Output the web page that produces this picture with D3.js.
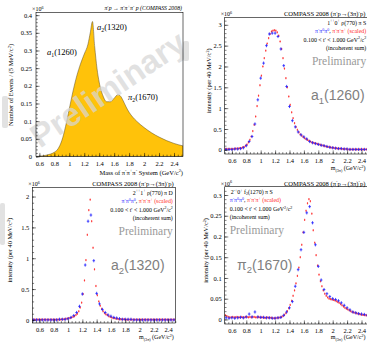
<!DOCTYPE html>
<html>
<head>
<meta charset="utf-8">
<script src="https://cdn.jsdelivr.net/npm/d3@7"></script>
<style>
  body { margin: 0; background: #fff; }
  svg { display: block; }
</style>
</head>
<body>
<div id="chart"></div>
<script>
// ---- total 3pi mass spectrum (x10^6 events / 5 MeV) ----
const totalMass   = [0.555, 0.6, 0.65, 0.7, 0.75, 0.8, 0.85, 0.9, 0.95, 1.0, 1.05, 1.1, 1.15, 1.2, 1.25, 1.28, 1.31, 1.34, 1.37, 1.4, 1.45, 1.5, 1.55, 1.6, 1.65, 1.68, 1.72, 1.76, 1.8, 1.85, 1.9, 2.0, 2.1, 2.2, 2.3, 2.4, 2.52];
const totalEvents = [0.0, 0.001, 0.002, 0.004, 0.007, 0.012, 0.022, 0.045, 0.085, 0.135, 0.185, 0.228, 0.262, 0.29, 0.318, 0.35, 0.382, 0.31, 0.25, 0.21, 0.172, 0.155, 0.155, 0.165, 0.175, 0.172, 0.158, 0.14, 0.125, 0.111, 0.1, 0.082, 0.067, 0.055, 0.045, 0.037, 0.03];

// ---- bin centres: pi- pi0 pi0 in 40 MeV bins, pi- pi- pi+ in 20 MeV bins ----
const bins40 = d3.range(50).map(i => 0.52 + 0.04 * i);
const bins20 = d3.range(100).map(i => 0.51 + 0.02 * i);

// a1(1260): 1++0+ rho(770) pi S  (x10^6)
const a1Neutral = [0.01,0.01,0.01,0.02,0.02,0.03,0.05,0.10,0.20,0.32,
                   0.62,1.20,1.72,2.08,2.50,2.78,2.80,2.80,2.72,2.42,
                   2.02,1.52,1.04,0.70,0.55,0.43,0.36,0.31,0.26,0.20,
                   0.17,0.15,0.13,0.11,0.10,0.08,0.06,0.05,0.04,0.03,
                   0.03,0.02,0.02,0.01,0.01,0.01,0.01,0.01,0.01,0.01];
const a1Charged = [0.02,0.02,0.02,0.02,0.02,0.02,0.02,0.03,0.03,0.03,
                   0.04,0.04,0.06,0.07,0.10,0.13,0.18,0.24,0.32,0.45,
                   0.60,0.80,1.05,1.30,1.55,1.78,2.00,2.20,2.38,2.55,
                   2.68,2.78,2.84,2.86,2.87,2.86,2.82,2.74,2.60,2.42,
                   2.20,1.95,1.72,1.50,1.28,1.08,0.90,0.76,0.64,0.55,
                   0.48,0.42,0.37,0.34,0.31,0.28,0.26,0.24,0.22,0.20,
                   0.18,0.17,0.16,0.15,0.14,0.13,0.12,0.11,0.10,0.09,
                   0.08,0.07,0.07,0.06,0.05,0.05,0.04,0.04,0.03,0.03,
                   0.03,0.02,0.02,0.02,0.02,0.01,0.01,0.01,0.01,0.01,
                   0.01,0.01,0.01,0.01,0.01,0.01,0.01,0.01,0.01,0.01];

// a2(1320): 2++1+ rho(770) pi D  (x10^6)
const a2Neutral = [0.00,0.00,0.00,0.00,0.00,0.00,0.00,0.00,0.00,0.01,
                   0.01,0.01,0.02,0.04,0.07,0.12,0.22,0.42,0.89,1.60,
                   1.70,0.96,0.43,0.26,0.17,0.12,0.08,0.06,0.04,0.03,
                   0.02,0.01,0.01,0.01,0.01,0.00,0.00,0.00,0.00,0.00,
                   0.00,0.00,0.00,0.00,0.00,0.00,0.00,0.00,0.00,0.00];
const a2Charged = [0.005,0.005,0.005,0.005,0.005,0.005,0.005,0.005,0.005,0.005,
                   0.005,0.005,0.005,0.005,0.005,0.005,0.005,0.005,0.005,0.005,
                   0.01,0.01,0.01,0.02,0.02,0.03,0.03,0.04,0.05,0.06,
                   0.08,0.10,0.14,0.20,0.28,0.42,0.64,0.97,1.38,1.78,
                   1.95,1.60,1.17,0.82,0.55,0.40,0.30,0.23,0.18,0.14,
                   0.11,0.09,0.08,0.06,0.05,0.04,0.03,0.03,0.02,0.02,
                   0.01,0.01,0.01,0.01,0.01,0.005,0.005,0.005,0.005,0.005,
                   0.005,0.005,0.005,0.005,0.005,0.005,0.005,0.005,0.005,0.005,
                   0.005,0.005,0.005,0.005,0.005,0.005,0.005,0.005,0.005,0.005,
                   0.005,0.005,0.005,0.005,0.005,0.005,0.005,0.005,0.005,0.005];

// pi2(1670): 2-+0+ f2(1270) pi S  (x10^6)
const pi2Neutral = [0.004,0.003,0.004,0.003,0.004,0.005,0.004,0.006,0.013,0.006,
                    0.018,0.006,0.005,0.005,0.004,0.004,0.003,0.003,0.004,0.005,
                    0.010,0.018,0.028,0.043,0.080,0.120,0.168,0.210,0.257,0.272,
                    0.233,0.180,0.128,0.095,0.072,0.062,0.055,0.050,0.048,0.045,
                    0.040,0.034,0.028,0.023,0.018,0.016,0.014,0.013,0.012,0.010];
const pi2Charged = [0.010,0.008,0.006,0.005,0.005,0.006,0.005,0.005,0.006,0.005,
                    0.005,0.006,0.005,0.005,0.006,0.006,0.005,0.006,0.005,0.006,
                    0.006,0.005,0.005,0.006,0.005,0.005,0.005,0.004,0.004,0.005,
                    0.004,0.004,0.004,0.003,0.003,0.003,0.004,0.004,0.005,0.006,
                    0.008,0.011,0.015,0.020,0.027,0.035,0.045,0.057,0.070,0.087,
                    0.105,0.125,0.150,0.180,0.210,0.240,0.262,0.280,0.290,0.285,
                    0.255,0.215,0.185,0.155,0.130,0.108,0.092,0.080,0.070,0.062,
                    0.057,0.053,0.050,0.049,0.048,0.047,0.046,0.044,0.042,0.040,
                    0.037,0.034,0.031,0.028,0.026,0.024,0.022,0.020,0.018,0.017,
                    0.016,0.015,0.014,0.013,0.012,0.011,0.011,0.010,0.010,0.010];

const W = 367, H = 342;
const SERIF = "'Liberation Serif', 'DejaVu Serif', serif";
const SANS = "'Liberation Sans', Arial, sans-serif";
const BLUE = '#1f1fff', RED = '#ff2b2b';

const svg = d3.select('#chart').append('svg')
  .attr('width', W).attr('height', H);
svg.append('rect').attr('width', W).attr('height', H).attr('fill', '#fff');

// faint smudges of neighbouring slide watermarks
[[2, 96, 6, 32], [183, 41, 6, 20], [0, 203, 5, 42]].forEach(r => {
  svg.append('rect').attr('x', r[0]).attr('y', r[1]).attr('width', r[2]).attr('height', r[3])
    .attr('rx', 2).attr('fill', '#e2e2e2');
});

// tiny markup: ^{sup}  _{sub}  *{italic}
function richText(text, fs) {
  let shift = 0;
  function add(str, fill) {
    const re = /([\^_*])\{([^}]*)\}/g;
    let last = 0, m;
    const push = (s, target, size, italic) => {
      const t = text.append('tspan').attr('dy', target - shift).attr('font-size', size).text(s);
      if (fill) t.attr('fill', fill);
      if (italic) t.attr('font-style', 'italic');
      shift = target;
    };
    while ((m = re.exec(str)) !== null) {
      if (m.index > last) push(str.slice(last, m.index), 0, fs, false);
      if (m[1] === '*') push(m[2], 0, fs, true);
      else push(m[2], m[1] === '^' ? -0.38 * fs : 0.25 * fs, fs * 0.68, false);
      last = re.lastIndex;
    }
    if (last < str.length) push(str.slice(last), 0, fs, false);
    return add;
  }
  return add;
}

function label(g, x, y, str, o = {}) {
  const t = g.append('text')
    .attr('x', x).attr('y', y)
    .attr('font-family', o.family || SERIF)
    .attr('font-size', o.fs || 6.5)
    .attr('text-anchor', o.anchor || 'start')
    .attr('fill', o.fill || '#000');
  if (o.rotate) t.attr('transform', `rotate(${o.rotate},${x},${y})`);
  if (o.italic) t.attr('font-style', 'italic');
  const add = richText(t, o.fs || 6.5);
  if (Array.isArray(str)) str.forEach(p => add(p[0], p[1]));
  else add(str);
  return t;
}

function drawAxes(g, x, y, o) {
  const [x0, x1] = x.range(), [y0, y1] = y.range();
  const fmt = d3.format('~g');
  const xd = x.domain(), yd = y.domain();
  const inside = (v, d) => v >= d[0] - 1e-9 && v <= d[1] + 1e-9;

  const xMinor = d3.range(0.5, 2.551, 0.05).filter(v => inside(v, xd));
  const xMajor = d3.range(0.6, 2.41, 0.2).map(v => +v.toFixed(2));
  const yMinor = d3.range(0, yd[1], o.yMinor).filter(v => inside(v, yd));
  const yMajor = d3.range(0, yd[1], o.yMajor).map(v => +v.toFixed(3));

  const xs = g.append('g').attr('transform', `translate(0,${y0})`);
  xs.append('g').call(d3.axisBottom(x).tickValues(xMinor).tickSize(-1.8).tickFormat(''));
  xs.append('g').call(d3.axisBottom(x).tickValues(xMajor).tickSize(-3.6).tickPadding(o.xPad || 5).tickFormat(fmt));

  const ys = g.append('g').attr('transform', `translate(${x0},0)`);
  ys.append('g').call(d3.axisLeft(y).tickValues(yMinor).tickSize(-1.8).tickFormat(''));
  ys.append('g').call(d3.axisLeft(y).tickValues(yMajor).tickSize(-3.6).tickPadding(o.yPad || 3.5).tickFormat(fmt));

  g.selectAll('.domain').remove();
  g.selectAll('.tick line').attr('stroke', '#000').attr('stroke-width', 0.5);
  g.selectAll('.tick text').attr('font-family', SERIF).attr('font-size', 6.5).attr('fill', '#000');

  g.append('rect')
    .attr('x', x0).attr('y', y1).attr('width', x1 - x0).attr('height', y0 - y1)
    .attr('fill', 'none').attr('stroke', '#000').attr('stroke-width', 0.6);

  label(g, x0 - 4, y1 - 1.2, '×10^{6}', { fs: 6 });
}

function clip(id, x, y) {
  const [x0, x1] = x.range(), [y0, y1] = y.range();
  svg.append('clipPath').attr('id', id).append('rect')
    .attr('x', x0).attr('y', y1).attr('width', x1 - x0).attr('height', y0 - y1);
  return `url(#${id})`;
}

// ================= panel 1: total spectrum =================
{
  const x = d3.scaleLinear().domain([0.555, 2.52]).range([36, 183]);
  const y = d3.scaleLinear().domain([0, 0.4075]).range([156.5, 12.5]);
  const g = svg.append('g');
  const pts = totalMass.map((m, i) => [m, totalEvents[i]]);

  g.append('path')
    .datum(pts)
    .attr('clip-path', clip('c1', x, y))
    .attr('d', d3.area().x(d => x(d[0])).y0(y(0)).y1(d => y(d[1])).curve(d3.curveMonotoneX))
    .attr('fill', '#ffc20a')
    .attr('stroke', '#5a4a20').attr('stroke-width', 0.5);

  g.append('text')
    .attr('transform', 'translate(108,89) rotate(-34)')
    .attr('text-anchor', 'middle')
    .attr('dominant-baseline', 'central')
    .attr('font-family', SANS).attr('font-weight', 'bold').attr('font-size', 33)
    .attr('fill', '#d6d6d6').attr('fill-opacity', 0.72)
    .text('Preliminary');

  drawAxes(g, x, y, { yMajor: 0.05, yMinor: 0.01, yPad: 4 });

  label(g, 182, 10, 'π^{-}p → π^{-}π^{+}π^{-} p (COMPASS 2008)', { fs: 5.8, anchor: 'end', italic: true });
  label(g, 13, 85, 'Number of Events / (5 MeV/c^{2})', { fs: 6.5, anchor: 'middle', rotate: -90 });
  label(g, 183, 174.5, 'Mass of π^{-}π^{+}π^{-} System (GeV/c^{2})', { fs: 6.5, anchor: 'end' });

  label(g, 47, 55, '*{a}_{1}(1260)', { fs: 8.5 });
  label(g, 97, 29.5, '*{a}_{2}(1320)', { fs: 8.5 });
  label(g, 128, 100, '*{π}_{2}(1670)', { fs: 8.5 });
}

// ================= panels 2-4: partial waves =================
function wavePanel(o) {
  const g = svg.append('g');
  const x = d3.scaleLinear().domain([0.5, 2.5]).range(o.xr);
  const y = d3.scaleLinear().domain(o.yd).range(o.yr);
  const plot = g.append('g').attr('clip-path', clip(o.id, x, y));

  // pi- pi- pi+ (scaled), 20 MeV bins
  const red = plot.append('g').attr('stroke', RED).attr('stroke-width', 0.8);
  red.selectAll('line.h').data(bins20).join('line').attr('class', 'h')
    .attr('x1', (d) => x(d - 0.009)).attr('x2', (d) => x(d + 0.009))
    .attr('y1', (d, i) => y(o.charged[i])).attr('y2', (d, i) => y(o.charged[i]));
  red.selectAll('line.v').data(bins20).join('line').attr('class', 'v')
    .attr('x1', d => x(d)).attr('x2', d => x(d))
    .attr('y1', (d, i) => y(o.charged[i]) - 1.1).attr('y2', (d, i) => y(o.charged[i]) + 1.1);

  // pi- pi0 pi0, 40 MeV bins
  const blue = plot.append('g').attr('stroke', BLUE).attr('stroke-width', 0.8);
  blue.selectAll('line.h').data(bins40).join('line').attr('class', 'h')
    .attr('x1', d => x(d - 0.018)).attr('x2', d => x(d + 0.018))
    .attr('y1', (d, i) => y(o.neutral[i])).attr('y2', (d, i) => y(o.neutral[i]));
  blue.selectAll('line.v').data(bins40).join('line').attr('class', 'v')
    .attr('x1', d => x(d)).attr('x2', d => x(d))
    .attr('y1', (d, i) => y(o.neutral[i]) - 1.6).attr('y2', (d, i) => y(o.neutral[i]) + 1.6);

  drawAxes(g, x, y, { yMajor: o.yMajor, yMinor: o.yMinor, yPad: 3, xPad: 4 });

  const [x0, x1] = x.range(), [y0, y1] = y.range();
  const right = Math.min(x1, W) - 1.5;
  label(g, right, y1 - 1.2, 'COMPASS 2008 (π^{-}p→(3π)^{-}p)', { fs: 6.6, anchor: 'end' });
  label(g, o.yLabelX, (y0 + y1) / 2 - 5, 'intensity (per 40 MeV/c^{2})', { fs: 6.3, anchor: 'middle', rotate: -90 });
  label(g, right, Math.min(y0 + 16, H - 2.8), 'm_{(3π)} (GeV/c^{2})', { fs: 6, anchor: 'end' });

  const lx = o.legendLeft ? x0 + 5 : x1 - 2.5;
  const anchor = o.legendLeft ? 'start' : 'end';
  const ly = y1;
  label(g, o.legendLeft ? lx + 1 : lx, ly + 7.2, o.wave, { fs: 5.9, anchor });
  label(g, lx, ly + 15.7, [['π^{-}π^{0}π^{0}', BLUE], [', ', '#000'], ['π^{-}π^{-}π^{+} (scaled)', RED]], { fs: 5.9, anchor });
  label(g, lx, ly + 24.2, "0.100 < t' < 1.000 GeV^{2}/c^{2}", { fs: 5.9, anchor });
  label(g, lx, ly + 32.7, '(incoherent sum)', { fs: 5.9, anchor });
  label(g, lx, ly + 47.5, 'Preliminary', { fs: 11.5, anchor, fill: '#9a9a9a' });
  label(g, o.nameX, ly + 83, o.name, { fs: 14, fill: '#808080', family: SANS });
}

wavePanel({
  id: 'c2', xr: [224.7, 368.7], yd: [-0.1, 3.18], yr: [154, 17.3],
  yMajor: 0.5, yMinor: 0.1, neutral: a1Neutral, charged: a1Charged,
  wave: '1^{++}0^{+} ρ(770) π S', name: 'a_{1}(1260)', nameX: 311, yLabelX: 211
});
wavePanel({
  id: 'c3', xr: [32.3, 175.3], yd: [-0.05, 2.15], yr: [323, 187.3],
  yMajor: 0.5, yMinor: 0.1, neutral: a2Neutral, charged: a2Charged,
  wave: '2^{++}1^{+} ρ(770) π D', name: 'a_{2}(1320)', nameX: 111, yLabelX: 12
});
wavePanel({
  id: 'c4', xr: [224.7, 368.7], yd: [-0.011, 0.32], yr: [324, 186.7],
  yMajor: 0.05, yMinor: 0.01, neutral: pi2Neutral, charged: pi2Charged,
  wave: '2^{-+}0^{+} f_{2}(1270) π S', name: 'π_{2}(1670)', nameX: 237, yLabelX: 208, legendLeft: true
});
</script>
</body>
</html>
